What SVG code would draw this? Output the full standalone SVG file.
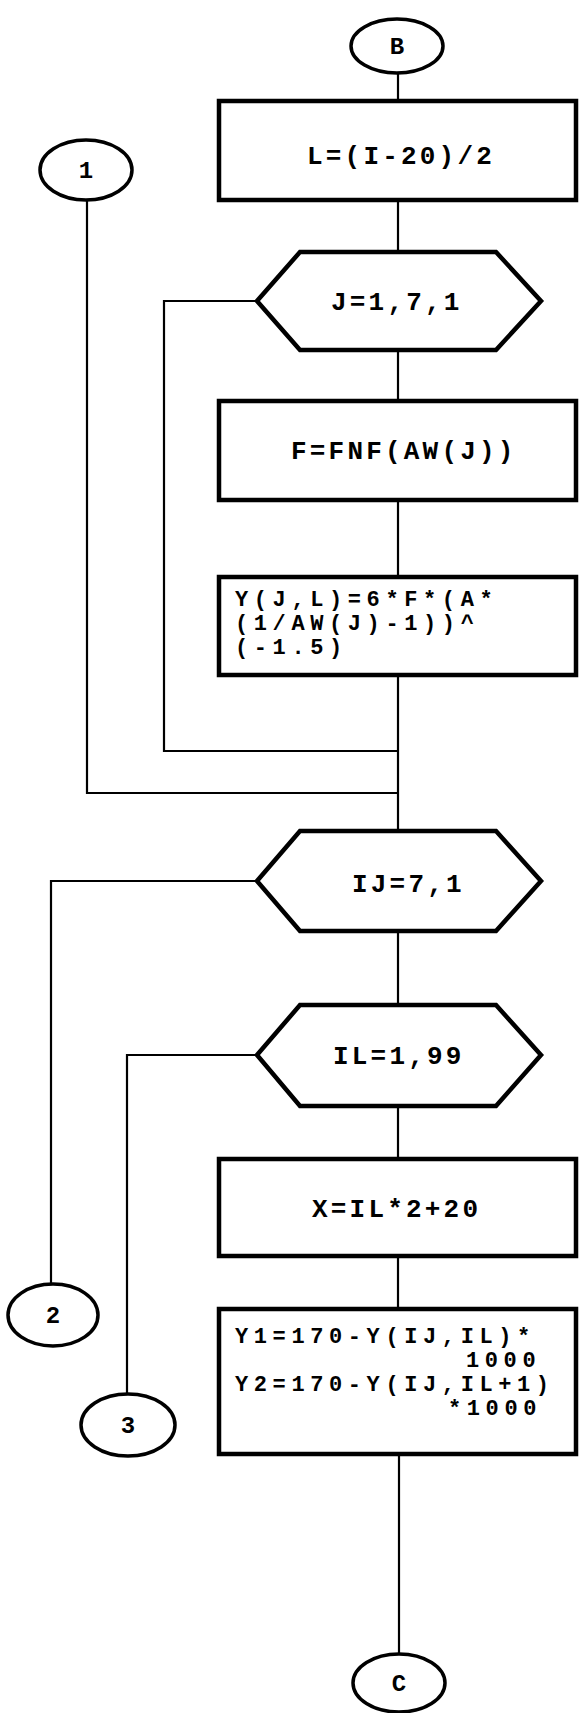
<svg xmlns="http://www.w3.org/2000/svg" width="581" height="1713" viewBox="0 0 581 1713">
<style>
.box{fill:#fff;stroke:#000;stroke-width:4.5}
.term{fill:#fff;stroke:#000;stroke-width:3.5}
.con{fill:none;stroke:#000;stroke-width:2.2}
.t{font-family:"Liberation Mono","DejaVu Sans Mono",monospace;font-size:26px;font-weight:bold;letter-spacing:3.2px;fill:#000}
.m{font-family:"Liberation Mono","DejaVu Sans Mono",monospace;font-size:22px;font-weight:bold;letter-spacing:5.6px;fill:#000}
.c{font-family:"Liberation Mono","DejaVu Sans Mono",monospace;font-size:24px;font-weight:bold;fill:#000;text-anchor:middle}
</style>
<rect width="581" height="1713" fill="#fff"/>
<g id="connectors">
<path class="con" d="M398 73V101"/>
<path class="con" d="M398 200V252"/>
<path class="con" d="M398 350V401"/>
<path class="con" d="M398 500V577"/>
<path class="con" d="M398 675V831"/>
<path class="con" d="M257 301H164V751H398"/>
<path class="con" d="M87 200V793H398"/>
<path class="con" d="M398 931V1005"/>
<path class="con" d="M257 881H51V1284"/>
<path class="con" d="M257 1055H127V1394"/>
<path class="con" d="M398 1106V1159"/>
<path class="con" d="M398 1256V1309"/>
<path class="con" d="M399 1454V1654"/>
</g>
<g id="B"><ellipse class="term" cx="397" cy="46" rx="46" ry="27"/><text class="c" x="397" y="54">B</text></g>
<g id="n1"><ellipse class="term" cx="86" cy="170" rx="46" ry="30"/><text class="c" x="86" y="178">1</text></g>
<g id="r1"><rect class="box" x="219" y="101" width="357" height="99"/><text class="t" x="307" y="164">L=(I-20)/2</text></g>
<g id="h1"><polygon class="box" points="257,301 300,252 496,252 541,301 496,350 300,350"/><text class="t" x="331" y="310">J=1,7,1</text></g>
<g id="r2"><rect class="box" x="219" y="401" width="357" height="99"/><text class="t" x="291" y="459">F=FNF(AW(J))</text></g>
<g id="r3"><rect class="box" x="219" y="577" width="357" height="98"/><text class="m"><tspan x="235" y="606">Y(J,L)=6*F*(A*</tspan><tspan x="235" y="630">(1/AW(J)-1))^</tspan><tspan x="235" y="654">(-1.5)</tspan></text></g>
<g id="h2"><polygon class="box" points="257,881 300,831 496,831 541,881 496,931 300,931"/><text class="t" x="352" y="892">IJ=7,1</text></g>
<g id="h3"><polygon class="box" points="257,1055 300,1005 496,1005 541,1055 496,1106 300,1106"/><text class="t" x="333" y="1064">IL=1,99</text></g>
<g id="r4"><rect class="box" x="219" y="1159" width="357" height="97"/><text class="t" x="312" y="1217">X=IL*2+20</text></g>
<g id="r5"><rect class="box" x="219" y="1309" width="357" height="145"/><text class="m"><tspan x="235" y="1343">Y1=170-Y(IJ,IL)*</tspan><tspan x="466" y="1367">1000</tspan><tspan x="235" y="1391">Y2=170-Y(IJ,IL+1)</tspan><tspan x="448" y="1415">*1000</tspan></text></g>
<g id="n2"><ellipse class="term" cx="53" cy="1315" rx="45" ry="31"/><text class="c" x="53" y="1323">2</text></g>
<g id="n3"><ellipse class="term" cx="128" cy="1425" rx="47" ry="31"/><text class="c" x="128" y="1433">3</text></g>
<g id="C"><ellipse class="term" cx="399" cy="1683" rx="46" ry="29"/><text class="c" x="399" y="1691">C</text></g>
</svg>
